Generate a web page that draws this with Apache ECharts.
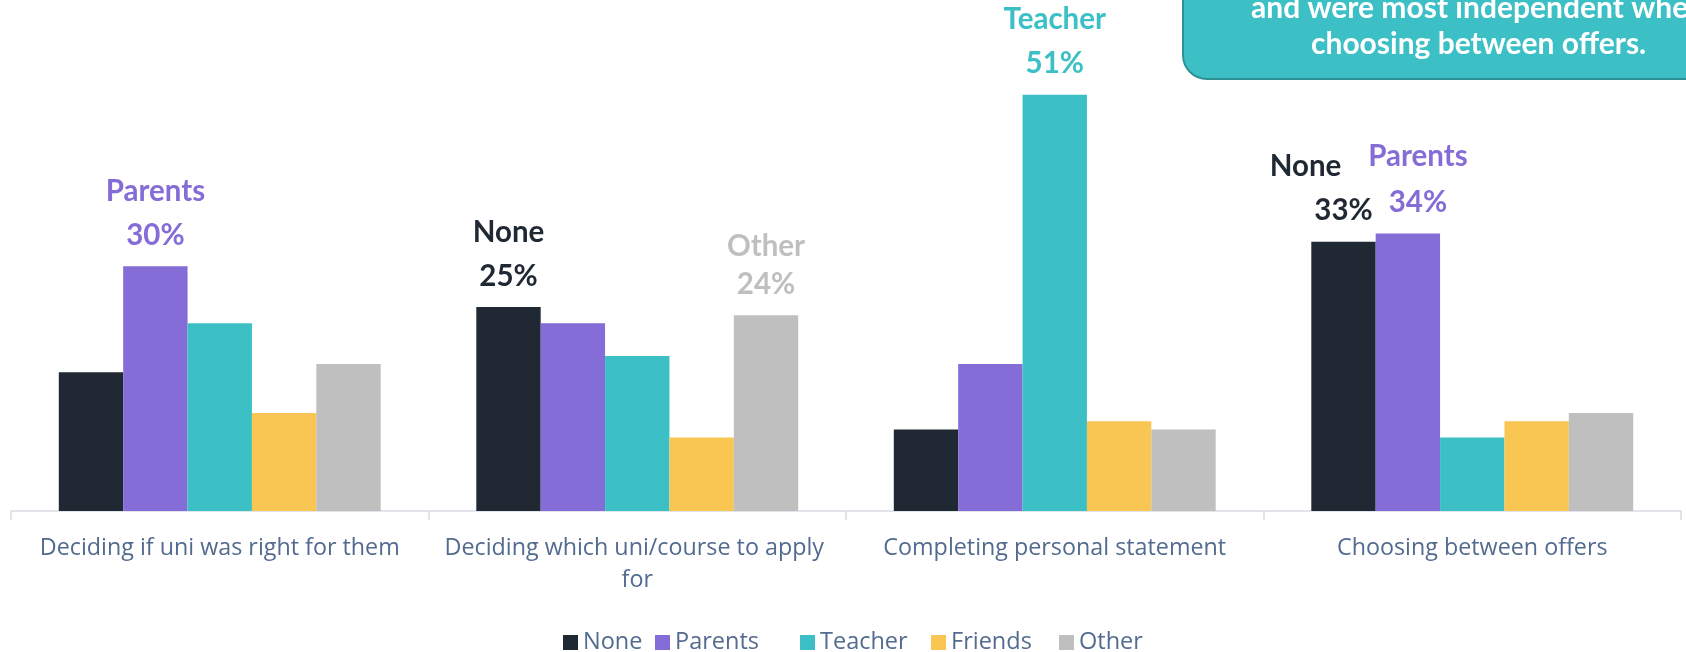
<!DOCTYPE html>
<html>
<head>
<meta charset="utf-8">
<script src="https://cdn.jsdelivr.net/npm/echarts@6/dist/echarts.min.js"></script>
<style>
html,body{margin:0;padding:0;background:#fff;}
#chart{width:1686px;height:652px;}
</style>
</head>
<body>
<div id="chart"></div>
<script>
const categories = ['Deciding if uni was right for them', 'Deciding which uni/course to apply for', 'Completing personal statement', 'Choosing between offers'];
const seriesNames = ['None', 'Parents', 'Teacher', 'Friends', 'Other'];
const noneValues = [17, 25, 10, 33];
const parentsValues = [30, 23, 18, 34];
const teacherValues = [23, 19, 51, 9];
const friendsValues = [12, 9, 11, 11];
const otherValues = [18, 24, 10, 12];
const seriesColors = ['#1f2833', '#846dd6', '#3cc0c6', '#f9c553', '#bfbfbf'];
// [seriesIndex, categoryIndex] of labelled bars
const labelledBars = [[1, 0], [0, 1], [4, 1], [2, 2], [0, 3], [1, 3]];
const calloutLines = ['and were most independent when', 'choosing between offers.'];

const allValues = [noneValues, parentsValues, teacherValues, friendsValues, otherValues];
const boldFont = 'Lato';
const textFont = '"Open Sans"';
const legendLefts = [563, 655, 800, 931, 1059];

function nameLineHeight(si, ci) {
  if (si === 4 && ci === 1) return 31;
  if (si === 1 && ci === 3) return 48;
  return 44;
}

const series = seriesNames.map((name, si) => ({
  name: name,
  type: 'bar',
  barGap: '0%',
  barCategoryGap: '22.9%',
  itemStyle: { color: seriesColors[si] },
  data: allValues[si].map((v, ci) => {
    const item = { value: v };
    if (labelledBars.some(p => p[0] === si && p[1] === ci)) {
      const last = (ci === 3);
      item.label = {
        show: true,
        position: 'top',
        distance: 9,
        offset: (last && si === 1) ? [10, 0] : [0, 0],
        formatter: '{n|' + name + '}\n{v|' + v + '%}',
        rich: {
          n: { fontFamily: boldFont, fontWeight: 'bold', fontSize: 29.5, lineHeight: nameLineHeight(si, ci), color: seriesColors[si],
               padding: (last && si === 0) ? [0, 76, 0, 0] : 0 },
          v: { fontFamily: boldFont, fontWeight: 'bold', fontSize: 29.5, lineHeight: 44, color: seriesColors[si] }
        }
      };
    }
    return item;
  })
}));

const legends = seriesNames.map((name, i) => ({
  data: [name],
  top: 630.5,
  left: legendLefts[i],
  padding: 0,
  itemWidth: 15,
  itemHeight: 15,
  icon: 'rect',
  textStyle: { fontFamily: textFont, fontSize: 23.5, color: '#536b8f' }
}));

const chart = echarts.init(document.getElementById('chart'), null, { renderer: 'canvas' });
chart.setOption({
  animation: false,
  color: seriesColors,
  grid: { left: 11, right: 5, top: 21.4, bottom: 141, containLabel: false },
  xAxis: {
    type: 'category',
    data: categories,
    axisLine: { show: true, lineStyle: { color: '#d9dce6', width: 1.5 } },
    axisTick: { show: true, length: 9, lineStyle: { color: '#d9dce6', width: 1.5 } },
    axisLabel: {
      margin: 21, fontFamily: textFont, fontSize: 23.3, color: '#536b8f', lineHeight: 32,
      width: 400, overflow: 'break', interval: 0
    }
  },
  yAxis: { type: 'value', min: 0, max: 60, show: false, splitLine: { show: false } },
  legend: legends,
  series: series,
  graphic: [
    {
      type: 'rect',
      shape: { x: 1183, y: -40, width: 620, height: 119, r: 24 },
      style: { fill: '#3cc0c6', stroke: '#2d9095', lineWidth: 2 },
      z: 10
    },
    {
      type: 'text', x: 1251, y: 8, z: 11,
      style: { text: calloutLines[0], fill: '#ffffff', font: 'bold 30px Lato', verticalAlign: 'middle', align: 'left' }
    },
    {
      type: 'text', x: 1311, y: 44, z: 11,
      style: { text: calloutLines[1], fill: '#ffffff', font: 'bold 30px Lato', verticalAlign: 'middle', align: 'left' }
    }
  ]
});
</script>
</body>
</html>
